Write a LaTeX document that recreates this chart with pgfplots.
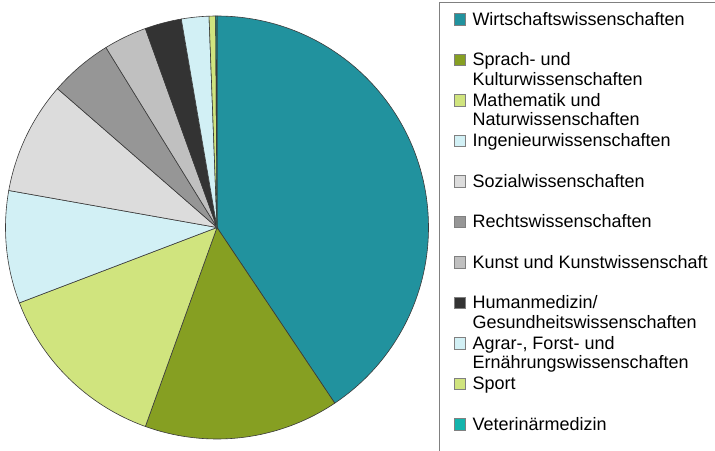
\documentclass[border=0pt]{standalone}
\usepackage{pgfplots}
\usepackage{pgfplotstable}
\pgfplotsset{compat=1.18}
\usepackage{fontspec}
\setmainfont{Liberation Sans}

\definecolor{c0}{HTML}{21929E}
\definecolor{c1}{HTML}{869F22}
\definecolor{c2}{HTML}{D0E47E}
\definecolor{c3}{HTML}{D2F0F5}
\definecolor{c4}{HTML}{DCDCDC}
\definecolor{c5}{HTML}{969696}
\definecolor{c6}{HTML}{C0C0C0}
\definecolor{c7}{HTML}{333333}
\definecolor{c8}{HTML}{D2F0F5}
\definecolor{c9}{HTML}{D0E47E}
\definecolor{c10}{HTML}{14B4AC}
\definecolor{sliceline}{HTML}{3A3A3A}
\definecolor{legline}{HTML}{808080}

\newcommand\twol[2]{\parbox[t]{260pt}{#1\\#2}}

% share of students per field (percent)
\pgfplotstableread{
value
40.6
14.9
13.7
8.6
8.6
4.8
3.3
2.8
2.1
0.5
0.1
}\piedata

\begin{document}
\begin{tikzpicture}
\begin{axis}[
  hide axis,
  x=1pt, y=1pt,
  xmin=-217, xmax=498,
  ymin=-222.5, ymax=227.5,
  clip=false,
  legend image code/.code={\draw[#1, draw=legline, line width=0.8pt] (0pt,0pt) rectangle (11.5pt,11.5pt);},
  legend style={draw=none, fill=none, at={(axis cs:236.5,215.5)}, anchor=north west,
    inner sep=0pt, row sep=0pt, column sep=6.5pt,
    cells={anchor=base west},
    nodes={inner sep=0pt, text height=13pt, text depth=27.5pt, anchor=base west,
      font=\fontsize{18}{19.5}\selectfont}},
  legend entries={
    Wirtschaftswissenschaften,
    {\twol{Sprach- und}{Kulturwissenschaften}},
    {\twol{Mathematik und}{Naturwissenschaften}},
    Ingenieurwissenschaften,
    Sozialwissenschaften,
    Rechtswissenschaften,
    Kunst und Kunstwissenschaft,
    {\twol{Humanmedizin/}{Gesundheitswissenschaften}},
    {\twol{Agrar-, Forst- und}{Ernährungswissenschaften}},
    Sport,
    Veterinärmedizin},
]
\pgfplotstablegetrowsof{\piedata}
\pgfmathtruncatemacro\N{\pgfplotsretval-1}
\def\cum{0}
\pgfplotsforeachungrouped \i in {0,...,\N}{%
  \pgfplotstablegetelem{\i}{value}\of\piedata
  \let\v\pgfplotsretval
  \pgfmathsetmacro\a{90-3.6*\cum}%
  \pgfmathsetmacro\b{90-3.6*(\cum+\v)}%
  \pgfmathsetmacro\xa{211.5*cos(\a)}%
  \pgfmathsetmacro\ya{211.5*sin(\a)}%
  \edef\temp{\noexpand\addplot[fill=c\i, draw=sliceline, line width=0.6pt] coordinates {(0,0) (\xa,\ya)} arc[start angle=\a, end angle=\b, radius=211.5pt] -- cycle;}%
  \temp
  \pgfmathsetmacro\cum{\cum+\v}%
}
\draw[legline, line width=0.9pt] (axis cs:222,-240) -- (axis cs:222,225.5) -- (axis cs:520,225.5);
\end{axis}
\pgfresetboundingbox
\useasboundingbox (current axis.south west) rectangle (current axis.north east);
\end{tikzpicture}
\end{document}
